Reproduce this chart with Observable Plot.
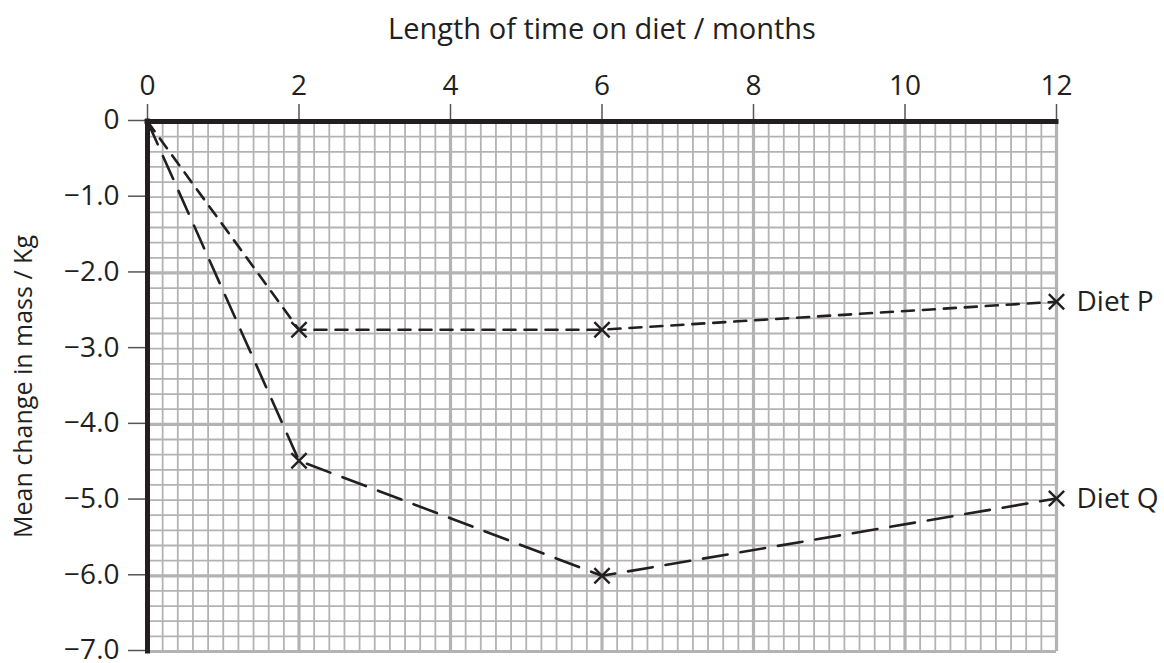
<!DOCTYPE html>
<html>
<head>
<meta charset="utf-8">
<script src="https://cdn.jsdelivr.net/npm/d3@7"></script>
<script src="https://cdn.jsdelivr.net/npm/@observablehq/plot@0.6"></script>
<style>
  html, body { margin: 0; padding: 0; background: #fff; }
  svg { display: block; }
</style>
</head>
<body>
<div id="chart"></div>
<script>
// Data
const months = [0, 2, 6, 12];
const dietP = [0, -2.75, -2.75, -2.38];
const dietQ = [0, -4.48, -6.0, -4.98];
const seriesNames = ["Diet P", "Diet Q"];

const xTicks = [0, 2, 4, 6, 8, 10, 12];
const yTicks = [0, -1, -2, -3, -4, -5, -6, -7];
const xTitle = "Length of time on diet / months";
const yTitle = "Mean change in mass / Kg";

const rows = [];
months.forEach((m, i) => {
  rows.push({series: seriesNames[0], month: m, change: dietP[i]});
  rows.push({series: seriesNames[1], month: m, change: dietQ[i]});
});
const pRows = rows.filter(d => d.series === "Diet P");
const qRows = rows.filter(d => d.series === "Diet Q");
const lastRows = rows.filter(d => d.month === months[months.length - 1]);

// graph-paper grid: minor every 0.2, major every 2
const minorX = d3.range(0, 12.0001, 0.2).map(v => +v.toFixed(2));
const minorY = d3.range(0, -7.0001, -0.2).map(v => +v.toFixed(2));
const majorX = [0, 2, 4, 6, 8, 10, 12];
const majorY = [0, -2, -4, -6, -7];

const ink = "#231f20";
const gridCol = "#b3b3b3";
const font = "Open Sans, sans-serif";

const fmtY = d => d === 0 ? "0" : "\u2212" + Math.abs(d).toFixed(1);

const chart = Plot.plot({
  width: 1164,
  height: 663,
  marginLeft: 147,
  marginRight: 108,
  marginTop: 121,
  marginBottom: 12,
  style: {fontFamily: font, fontSize: "28px", color: ink, background: "#fff"},
  x: {domain: [0, 12]},
  y: {domain: [-7, 0]},
  marks: [
    Plot.gridX(minorX, {stroke: gridCol, strokeOpacity: 1, strokeWidth: 1.8}),
    Plot.gridY(minorY, {stroke: gridCol, strokeOpacity: 1, strokeWidth: 1.8}),
    Plot.gridX(majorX, {stroke: gridCol, strokeOpacity: 1, strokeWidth: 3.2}),
    Plot.gridY(majorY, {stroke: gridCol, strokeOpacity: 1, strokeWidth: 3.2}),
    Plot.axisX({
      anchor: "top", ticks: xTicks, tickSize: 18, tickPadding: 9,
      stroke: "#555", strokeWidth: 1.5, fontSize: 28, fill: ink, label: null
    }),
    Plot.axisY({
      anchor: "left", ticks: yTicks, tickSize: 19, tickPadding: 9,
      tickFormat: fmtY, stroke: "#555", strokeWidth: 1.5, fontSize: 28, fill: ink,
      label: null, dy: -1
    }),
    Plot.axisY({
      anchor: "left", ticks: [], label: yTitle, labelAnchor: "center",
      labelArrow: "none", labelOffset: 133, dy: -13, fontSize: 25, fill: ink
    }),
    Plot.text([xTitle], {frameAnchor: "top", dy: -92, fontSize: 29, fill: ink, lineAnchor: "middle"}),
    Plot.ruleY([0], {stroke: ink, strokeWidth: 5, strokeLinecap: "square"}),
    Plot.ruleX([0], {stroke: ink, strokeWidth: 5, strokeLinecap: "square"}),
    Plot.line(pRows, {x: "month", y: "change", stroke: ink, strokeWidth: 2.6, strokeDasharray: "12,9"}),
    Plot.line(qRows, {x: "month", y: "change", stroke: ink, strokeWidth: 2.6, strokeDasharray: "25,13"}),
    Plot.dot(rows.filter(d => d.month !== 0), {x: "month", y: "change", symbol: "times", r: 7, stroke: ink, strokeWidth: 2.4}),
    Plot.text(lastRows, {x: "month", y: "change", text: "series", textAnchor: "start", dx: 20, fontSize: 28, fill: ink})
  ]
});
document.getElementById("chart").appendChild(chart);
</script>
</body>
</html>
